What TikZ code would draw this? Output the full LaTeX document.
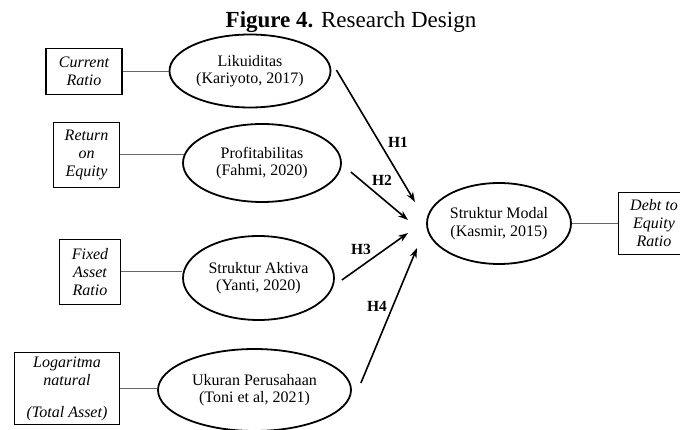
\documentclass[tikz,border=0pt]{standalone}
\usepackage{fontspec}
\setmainfont{Liberation Serif}
\usetikzlibrary{shapes.geometric,arrows.meta}

\tikzset{
  konstruk/.style={ellipse, draw, line width=1.8pt, inner sep=0pt, align=center, font=\fontsize{16}{17.5}\selectfont},
  indikator/.style={rectangle, draw, line width=1.2pt, inner sep=0pt, align=center, font=\fontsize{16}{18}\selectfont\itshape},
  garis/.style={draw=black!60, line width=1pt},
  hipotesis/.style={line width=1.6pt, -{Stealth[length=10pt,width=7pt]}},
  hlabel/.style={font=\fontsize{15.5}{17}\selectfont\bfseries, inner sep=0pt}
}

\begin{document}
\begin{tikzpicture}[x=1pt,y=-1pt]
\useasboundingbox (0,0) rectangle (680,430);
\clip (0,0) rectangle (680,430);
\node[anchor=base, font=\fontsize{23}{26}\selectfont] (judul) at (351,28) {\textbf{Figure 4.} Research Design};

% variabel
\node[konstruk, minimum width=161pt, minimum height=73pt] (lk) at (250,71) {Likuiditas\\(Kariyoto, 2017)};
\node[konstruk, minimum width=158pt, minimum height=78pt] (pf) at (262,163) {Profitabilitas\\(Fahmi, 2020)};
\node[konstruk, minimum width=151pt, minimum height=84pt] (sa) at (258.5,278) {Struktur Aktiva\\(Yanti, 2020)};
\node[konstruk, minimum width=193pt, minimum height=82pt] (up) at (254.5,390) {Ukuran Perusahaan\\(Toni et al, 2021)};
\node[konstruk, minimum width=144pt, minimum height=81pt] (sm) at (499,223.5) {Struktur Modal\\(Kasmir, 2015)};

% indikator
\node[indikator, minimum width=76pt, minimum height=46pt] (cr) at (84,71.3) {Current\\Ratio};
\node[indikator, minimum width=66pt, minimum height=65pt] (re) at (86.5,155) {Return\\on\\Equity};
\node[indikator, minimum width=61pt, minimum height=65pt] (fa) at (90,272) {Fixed\\Asset\\Ratio};
\node[indikator, minimum width=105pt, minimum height=72pt] (ln) at (67,388.5) {Logaritma\\natural\\[14pt](Total Asset)};
\node[indikator, minimum width=71pt, minimum height=62pt] (de) at (654,223.5) {Debt to\\Equity\\Ratio};

\draw[garis] (cr.east) -- (cr.east -| lk.west);
\draw[garis] (re.east) -- (re.east -| pf.173);
\draw[garis] (fa.east) -- (fa.east -| sa.west);
\draw[garis] (ln.east) -- (ln.east -| up.west);
\draw[garis] (sm.east) -- (sm.east -| de.west);

% hipotesis
\coordinate (t1) at (415,202);
\coordinate (t2) at (408,220);
\coordinate (t3) at (408,233);
\coordinate (t4) at (417,248);
\draw[hipotesis] ([shift={(5,-1)}]lk.east) -- (t1);
\draw[hipotesis] ([shift={(9,9)}]pf.east) -- (t2);
\draw[hipotesis] ([shift={(7,2)}]sa.east) -- (t3);
\draw[hipotesis] ([shift={(9,-7)}]up.east) -- (t4);
\node[hlabel] (h1) at (398,142) {H1};
\node[hlabel] (h2) at (382,180) {H2};
\node[hlabel] (h3) at (361,249) {H3};
\node[hlabel] (h4) at (377,306) {H4};
\end{tikzpicture}
\end{document}
